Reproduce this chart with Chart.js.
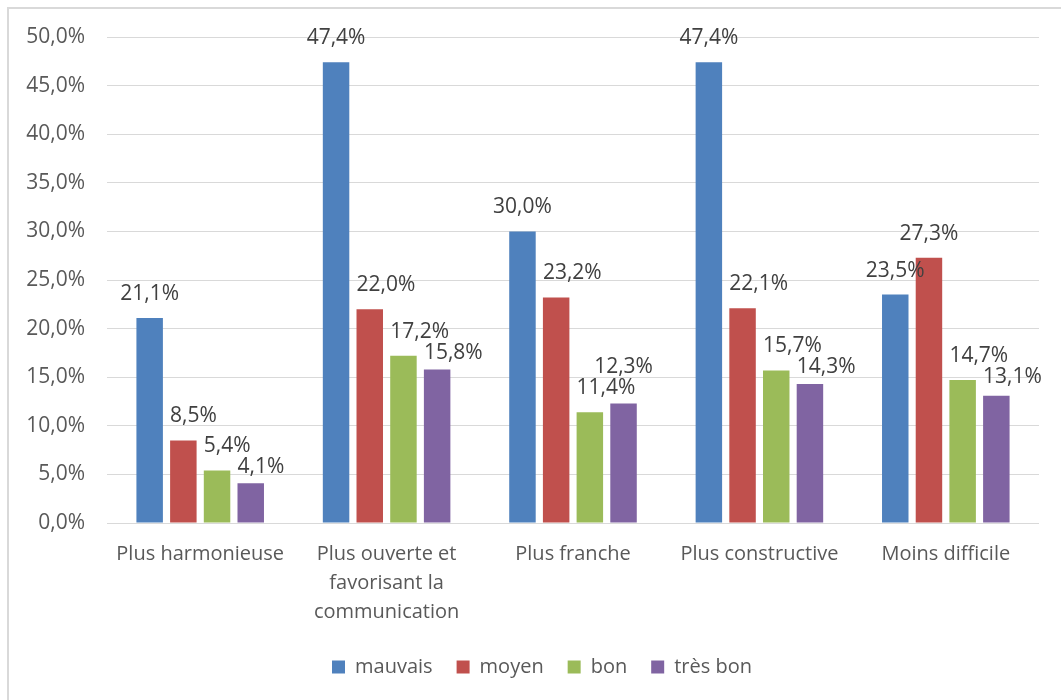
<!DOCTYPE html>
<html>
<head>
<meta charset="utf-8">
<script src="https://cdn.jsdelivr.net/npm/chart.js@4.4.1/dist/chart.umd.min.js"></script>
<style>
  html, body { margin: 0; padding: 0; background: #fff; overflow: hidden; }
  #wrap { position: relative; width: 1061px; height: 700px; }
  #frame { position: absolute; left: 7px; top: 7px; width: 1200px; height: 900px;
           border: 2px solid #d9d9d9; box-sizing: border-box; pointer-events: none; }
  canvas { position: absolute; left: 0; top: 0; }
</style>
</head>
<body>
<div id="wrap">
  <canvas id="c" width="1061" height="700"></canvas>
  <div id="frame"></div>
</div>
<script>
const categories = [
  ["Plus harmonieuse"],
  ["Plus ouverte et", "favorisant la", "communication"],
  ["Plus franche"],
  ["Plus constructive"],
  ["Moins difficile"]
];
const seriesNames = ["mauvais", "moyen", "bon", "très bon"];
const mauvais = [21.1, 47.4, 30.0, 47.4, 23.5];
const moyen   = [8.5, 22.0, 23.2, 22.1, 27.3];
const bon     = [5.4, 17.2, 11.4, 15.7, 14.7];
const tresBon = [4.1, 15.8, 12.3, 14.3, 13.1];
const yTicks = [0, 5, 10, 15, 20, 25, 30, 35, 40, 45, 50];

const colors = ["#4F81BD", "#C0504D", "#9BBB59", "#8064A2"];
const FONT = "'Open Sans', 'DejaVu Sans', sans-serif";

function fmt(v) { return v.toFixed(1).replace('.', ',') + '%'; }

function overlaps(a, b) {
  return a.bottom > b.top && a.top < b.bottom && a.left < b.right && a.right > b.left;
}

const labelPlugin = {
  id: 'barLabels',
  afterLayout(chart) {
    const lg = chart.legend;
    if (lg) { lg.left += 20; lg.right += 20; }
  },
  afterDatasetsDraw(chart) {
    const ctx = chart.ctx;
    ctx.save();
    ctx.font = "21px " + FONT;
    ctx.fillStyle = "#404040";
    ctx.textAlign = "left";
    ctx.textBaseline = "middle";
    const n = chart.data.labels.length;
    const h = 20, above = 24;
    for (let i = 0; i < n; i++) {
      const bars = [];
      const boxes = [];
      chart.data.datasets.forEach((ds, d) => {
        const el = chart.getDatasetMeta(d).data[i];
        const p = el.getProps(['x', 'y', 'base', 'width'], true);
        const txt = fmt(ds.data[i]);
        const w = ctx.measureText(txt).width;
        const bar = { left: p.x - p.width / 2, right: p.x + p.width / 2, top: p.y, bottom: p.base };
        const box = { left: p.x - w / 2, right: p.x + w / 2, top: p.y - above - h / 2, bottom: p.y - above + h / 2 };
        const setY = t => { box.top = t; box.bottom = t + h; };
        const setX = l => { box.left = l; box.right = l + w; };
        // 1. vertical: avoid previous label
        boxes.forEach(b => {
          if (overlaps(box, b)) {
            if (b.bottom + 1 + h <= bar.top) setY(b.bottom + 1);
            else setY(b.top - 1 - h);
          }
        });
        // 2. horizontal: avoid previous bars
        bars.forEach(b => {
          if (overlaps(box, b)) setX(Math.max(bar.left, b.right + 2));
        });
        // 3. horizontal: avoid previous labels
        boxes.forEach(b => {
          if (overlaps(box, b)) setX(b.right + 1);
        });
        boxes.push(box);
        bars.push(bar);
        ctx.fillText(txt, box.left, (box.top + box.bottom) / 2);
      });
    }
    ctx.restore();
  }
};

const series = [mauvais, moyen, bon, tresBon];
new Chart(document.getElementById('c'), {
  type: 'bar',
  data: {
    labels: categories,
    datasets: series.map((s, k) => ({
      label: seriesNames[k],
      data: s,
      backgroundColor: colors[k],
      borderWidth: 0,
      categoryPercentage: 0.723,
      barPercentage: 0.786
    }))
  },
  options: {
    responsive: false,
    animation: false,
    devicePixelRatio: 1,
    layout: { padding: { left: 5, right: 22, top: 37, bottom: 13 } },
    plugins: {
      tooltip: { enabled: false },
      legend: {
        position: 'bottom',
        labels: {
          boxWidth: 13, boxHeight: 13, padding: 24,
          color: '#595959',
          font: { family: FONT, size: 20 }
        }
      }
    },
    scales: {
      x: {
        grid: { display: false, drawTicks: false },
        border: { display: false },
        ticks: {
          color: '#595959', padding: 17, maxRotation: 0, autoSkip: false,
          font: { family: FONT, size: 20, lineHeight: 1.45 }
        },
        afterFit(scale) { scale.height = 110; }
      },
      y: {
        min: 0, max: 50,
        afterBuildTicks(scale) { scale.ticks = yTicks.map(v => ({ value: v })); },
        grid: { color: '#d9d9d9', lineWidth: 1, drawTicks: false },
        border: { display: false },
        ticks: {
          color: '#595959', padding: 22,
          font: { family: FONT, size: 21 },
          callback: v => fmt(v)
        },
        afterFit(scale) { scale.width = 102; }
      }
    }
  },
  plugins: [labelPlugin]
});
</script>
</body>
</html>
